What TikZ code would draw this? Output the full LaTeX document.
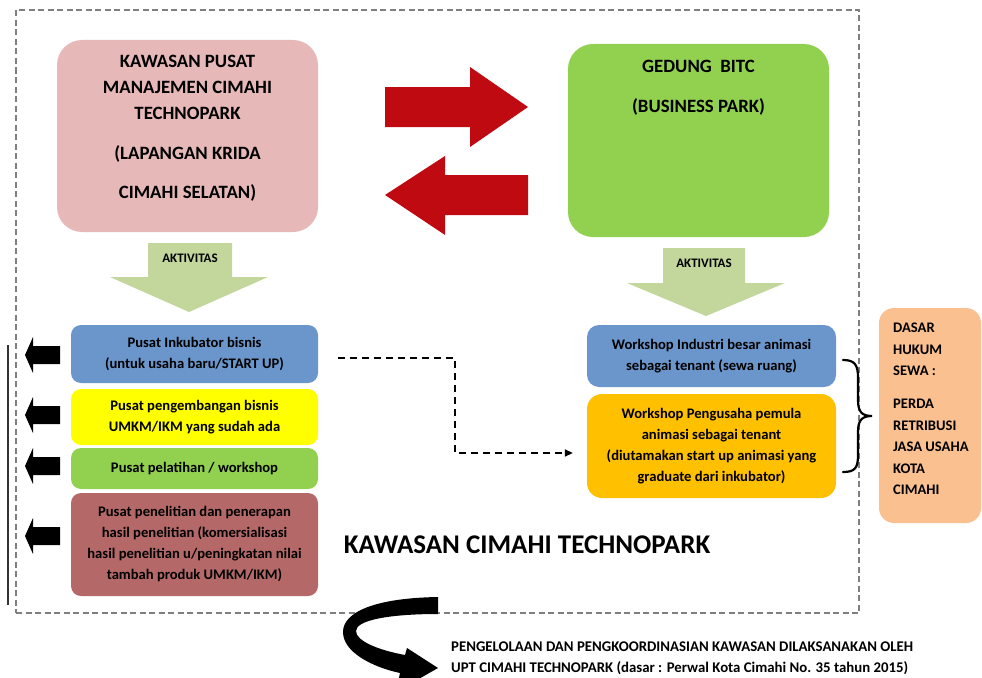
\documentclass[tikz,border=0pt]{standalone}
\usepackage{fontspec}
\setmainfont{Carlito}
\usetikzlibrary{arrows.meta}
\definecolor{cpink}{HTML}{E6B9B8}
\definecolor{cgreen}{HTML}{92D050}
\definecolor{cblue}{HTML}{6A96CB}
\definecolor{cyellow}{HTML}{FFFF00}
\definecolor{cbrown}{HTML}{B46868}
\definecolor{corange}{HTML}{FFC000}
\definecolor{cpeach}{HTML}{FAC090}
\definecolor{cred}{HTML}{C00A12}
\definecolor{cakt}{HTML}{C3D69B}
\definecolor{cframe}{HTML}{7F7F7F}
\newcommand\bxf{\bfseries\fontsize{14.6}{21}\selectfont}
\newcommand\bigf{\bfseries\fontsize{18.8}{26}\selectfont}
\begin{document}
\begin{tikzpicture}[x=1pt,y=-1pt,
  rbox/.style={rounded corners=#1, inner sep=0pt, align=center, font=\bxf},
  rbox/.default=10pt,
  lbl/.style={inner sep=0pt, align=center},
  blockarrow/.style={fill=black, draw=none},
  redarrow/.style={fill=cred, draw=none},
  aktarrow/.style={fill=cakt, draw=none},
  dashconn/.style={draw=black, line width=1.8pt, dash pattern=on 7pt off 5pt, -{Triangle[length=8pt,width=7pt]}}]
\useasboundingbox (0,0) rectangle (982,677);
\clip (0,0) rectangle (982,677);
\fill[white] (0,0) rectangle (982,677);

% outer dashed frame
\node[draw=cframe, line width=1.3pt, dash pattern=on 6pt off 3.5pt, minimum width=843pt, minimum height=603pt, inner sep=0pt] (frame) at (437.5,311.5) {};
\draw[draw=black!80, line width=1.2pt] (8,345) -- (8,605);

% top boxes
\node[rbox=25pt, fill=cpink, minimum width=261pt, minimum height=192pt] (pusat) at (187.5,136) {};
\node[lbl, font=\bigf] (pusattxt) at (187.5,128.5) {KAWASAN PUSAT\\MANAJEMEN CIMAHI\\TECHNOPARK\\[14pt](LAPANGAN KRIDA\\[13pt]CIMAHI SELATAN)};
\node[rbox=25pt, fill=cgreen, minimum width=261pt, minimum height=193pt] (bitc) at (698.5,140.5) {};
\node[lbl, font=\bigf, align=center] (bitctxt) at (698.5,88) {GEDUNG\ \ BITC\\[14pt](BUSINESS PARK)};

% red exchange arrows
\fill[redarrow] (385,87) -- (470,87) -- (470,67) -- (528,107) -- (470,147) -- (470,127) -- (385,127) -- cycle;
\fill[redarrow] (528,175) -- (445,175) -- (445,156) -- (385,195) -- (445,235) -- (445,215) -- (528,215) -- cycle;

% AKTIVITAS arrows
\fill[aktarrow] (148,243) -- (232,243) -- (232,277) -- (268,277) -- (189,312) -- (110,277) -- (148,277) -- cycle;
\node[lbl, font=\bfseries\fontsize{13}{14}\selectfont] (akt1) at (190,258) {AKTIVITAS};
\fill[aktarrow] (663,248) -- (745,248) -- (745,283) -- (785,283) -- (706,316) -- (627,283) -- (663,283) -- cycle;
\node[lbl, font=\bfseries\fontsize{13}{14}\selectfont] (akt2) at (704,263) {AKTIVITAS};

% left activity boxes
\node[rbox, fill=cblue, minimum width=247pt, minimum height=58pt] (inkub) at (194.5,354) {Pusat Inkubator bisnis\\(untuk usaha baru/START UP)};
\node[rbox, fill=cyellow, minimum width=247pt, minimum height=56pt] (umkm) at (194.5,417) {Pusat pengembangan bisnis\\UMKM/IKM yang sudah ada};
\node[rbox, fill=cgreen, minimum width=247pt, minimum height=41pt] (latih) at (194.5,468.5) {Pusat pelatihan / workshop};
\node[rbox, fill=cbrown, minimum width=247pt, minimum height=103pt] (teliti) at (194.5,544.5) {Pusat penelitian dan penerapan\\hasil penelitian (komersialisasi\\hasil penelitian u/peningkatan nilai\\tambah produk UMKM/IKM)};

% black left arrows
\foreach \yy in {355,415,466,536}{
  \fill[blockarrow] (25,\yy) -- (33,\yy-18) -- (33,\yy-9) -- (60,\yy-9) -- (60,\yy+9) -- (33,\yy+9) -- (33,\yy+18) -- cycle;
}

% right boxes
\node[rbox=12pt, fill=cblue, minimum width=249pt, minimum height=62pt] (work1) at (711.5,356) {Workshop Industri besar animasi\\sebagai tenant (sewa ruang)};
\node[rbox=15pt, fill=corange, minimum width=249pt, minimum height=104pt] (work2) at (711.5,446) {Workshop Pengusaha pemula\\animasi sebagai tenant\\(diutamakan start up animasi yang\\graduate dari inkubator)};

% dashed connector
\coordinate (dstart) at (338,358);
\draw[dashconn] (dstart) -- (455,358) |- ([xshift=-14pt,yshift=-7pt]work2.west);

% brace
\draw[line width=2.2pt, line cap=round] (843,360) .. controls (855,360) and (858,365) .. (858,378) -- (858,400) .. controls (858,412) and (862,416) .. (872,416) .. controls (862,416) and (858,420) .. (858,432) -- (858,455) .. controls (858,468) and (855,472) .. (843,472);

% dasar hukum
\node[rbox=15pt, fill=cpeach, minimum width=102pt, minimum height=215pt] (dasar) at (930,415.5) {};
\node[lbl, align=left, anchor=west, font=\bfseries\fontsize{14.6}{21.5}\selectfont] (dasartxt) at (893,409) {DASAR\\HUKUM\\SEWA :\\[11.5pt]PERDA\\RETRIBUSI\\JASA USAHA\\KOTA\\CIMAHI};

% title
\node[lbl, font=\bfseries\fontsize{27}{30}\selectfont] (title) at (527,545) {KAWASAN CIMAHI TECHNOPARK};

% curved arrow
\fill[black] (438,597) .. controls (375,598) and (343,612) .. (343,632) .. controls (343,652) and (372,667) .. (400,673) -- (396,692) -- (438,668) -- (407,648) -- (405,655) .. controls (378,650) and (356,641) .. (356,631) .. controls (356,620) and (390,614) .. (438,614) -- cycle;

% bottom text
\node[lbl, align=left, anchor=west, font=\bfseries\fontsize{14.8}{21}\selectfont] (bottomtxt) at (451,658) {PENGELOLAAN DAN PENGKOORDINASIAN KAWASAN DILAKSANAKAN OLEH\\UPT CIMAHI TECHNOPARK (dasar : Perwal Kota Cimahi No. 35 tahun 2015)};
\end{tikzpicture}
\end{document}
